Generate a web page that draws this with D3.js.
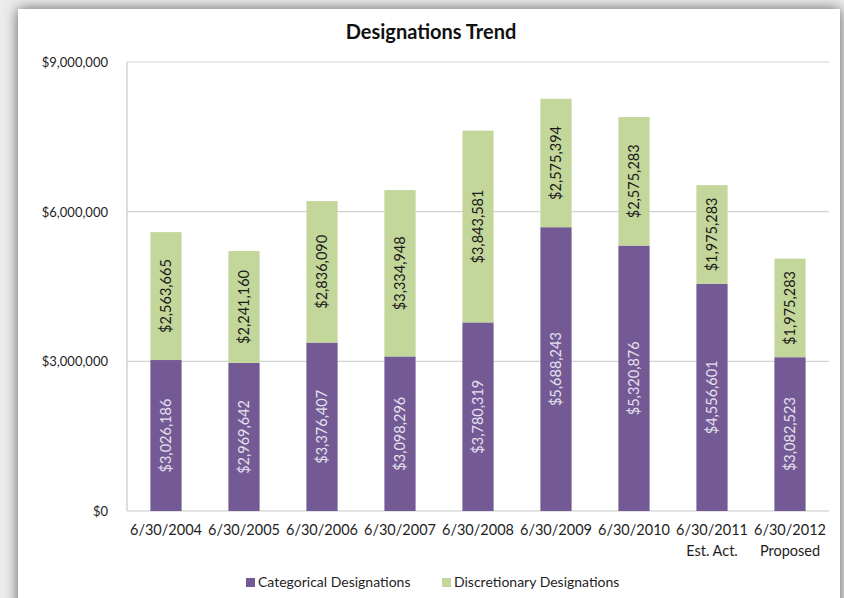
<!DOCTYPE html>
<html>
<head>
<meta charset="utf-8">
<script src="https://cdn.jsdelivr.net/npm/d3@7"></script>
<style>
  html, body { margin: 0; padding: 0; background: #ffffff; }
  svg { display: block; }
  text { font-family: Lato, "Open Sans", sans-serif; }
</style>
</head>
<body>
<script>
const categories = ["6/30/2004","6/30/2005","6/30/2006","6/30/2007","6/30/2008","6/30/2009","6/30/2010","6/30/2011","6/30/2012"];
const subLabels = ["","","","","","","","Est. Act.","Proposed"];
const categorical = [3026186,2969642,3376407,3098296,3780319,5688243,5320876,4556601,3082523];
const discretionary = [2563665,2241160,2836090,3334948,3843581,2575394,2575283,1975283,1975283];
const seriesNames = ["Categorical Designations","Discretionary Designations"];
const yTicks = [0,3000000,6000000,9000000];
const colors = ["#735a94","#c4d79b"];

(function(){
const W = 844, H = 598;
const svg = d3.select("body").append("svg").attr("width", W).attr("height", H);

// backdrop with shadow
const defs = svg.append("defs");
const f = defs.append("filter").attr("id","sh").attr("x","-5%").attr("y","-5%").attr("width","110%").attr("height","110%");
f.append("feDropShadow").attr("dx",0).attr("dy",0).attr("stdDeviation",7).attr("flood-color","#000").attr("flood-opacity",0.6);
svg.append("rect").attr("width",W).attr("height",H).attr("fill","#ececec");
svg.append("rect").attr("x",18).attr("y",9).attr("width",822).attr("height",620)
  .attr("fill","#fff").attr("filter","url(#sh)");

const pl = 127, pr = 829, pt = 62, pb = 511;
const x = d3.scaleBand().domain(categories).range([pl, pr]).paddingInner(0.6).paddingOuter(0.3);
const y = d3.scaleLinear().domain([0, 9000000]).range([pb, pt]);

// gridlines
svg.append("g").selectAll("line").data(yTicks.filter(d => d > 0)).join("line")
  .attr("x1", pl).attr("x2", pr).attr("y1", d => y(d)).attr("y2", d => y(d))
  .attr("stroke","#d4d4d4").attr("stroke-width",1.2);

// axes lines
svg.append("line").attr("x1",pl).attr("x2",pl).attr("y1",pt).attr("y2",pb).attr("stroke","#c8c8c8").attr("stroke-width",1.2);
svg.append("line").attr("x1",pl).attr("x2",pr).attr("y1",pb).attr("y2",pb).attr("stroke","#c8c8c8").attr("stroke-width",1.2);

// y labels
const fmt = d3.format("$,.0f");
svg.append("g").selectAll("text").data(yTicks).join("text")
  .attr("x", 108).attr("y", d => y(d) + 5)
  .attr("text-anchor","end").attr("font-size", 13).attr("fill","#1e1e1e")
  .text(d => fmt(d));

// stacked data
const rows = categories.map((c,i) => ({cat:c, a:categorical[i], b:discretionary[i]}));
const stack = d3.stack().keys(["a","b"])(rows);

stack.forEach((layer, li) => {
  const g = svg.append("g");
  g.selectAll("rect").data(layer).join("rect")
    .attr("x", d => x(d.data.cat))
    .attr("width", x.bandwidth())
    .attr("y", d => y(d[1]))
    .attr("height", d => y(d[0]) - y(d[1]))
    .attr("fill", colors[li]);
  g.selectAll("text").data(layer).join("text")
    .attr("transform", d => {
      const cx = x(d.data.cat) + x.bandwidth()/2 + 5;
      const cy = (y(d[0]) + y(d[1]))/2;
      return `translate(${cx},${cy}) rotate(-90)`;
    })
    .attr("text-anchor","middle")
    .attr("font-size", 14.5)
    .attr("fill", li === 0 ? "#e6e0ee" : "#1a1a1a")
    .text(d => fmt(d[1] - d[0]));
});

// x labels
const xl = svg.append("g");
xl.selectAll("text.c").data(categories).join("text").attr("class","c")
  .attr("x", d => x(d) + x.bandwidth()/2).attr("y", 535)
  .attr("text-anchor","middle").attr("font-size",14.5).attr("fill","#1e1e1e")
  .text(d => d);
xl.selectAll("text.s").data(categories.map((c,i)=>({c, s:subLabels[i]})).filter(d => d.s)).join("text").attr("class","s")
  .attr("x", d => x(d.c) + x.bandwidth()/2).attr("y", 556)
  .attr("text-anchor","middle").attr("font-size",14.5).attr("fill","#1e1e1e")
  .text(d => d.s);

// title
svg.append("text").attr("x", 431).attr("y", 39).attr("text-anchor","middle")
  .attr("font-size",20).attr("font-weight","bold").attr("fill","#111")
  .text("Designations Trend");

// legend
const legendX = [246, 442];
const lg = svg.append("g");
seriesNames.forEach((n,i) => {
  lg.append("rect").attr("x", legendX[i]).attr("y", 578).attr("width", 9).attr("height", 9).attr("fill", colors[i]);
  lg.append("text").attr("x", legendX[i] + 12).attr("y", 587).attr("font-size", 14).attr("fill","#1e1e1e").text(n);
});
})();
</script>
</body>
</html>
